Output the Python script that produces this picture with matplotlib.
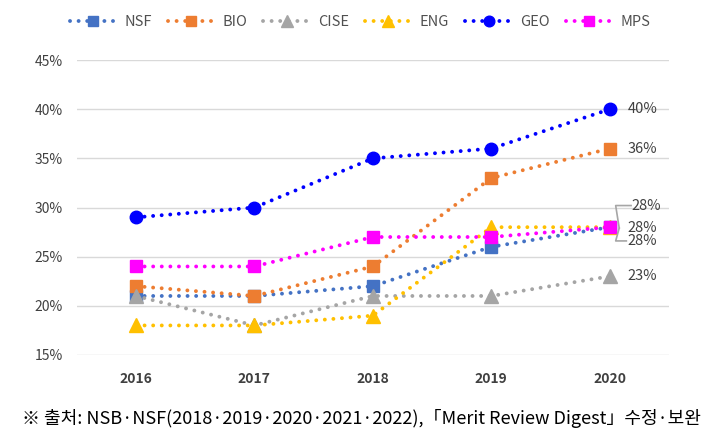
import matplotlib
matplotlib.use("Agg")
import matplotlib.pyplot as plt
from matplotlib.ticker import FuncFormatter

plt.rcParams['font.family'] = ['Noto Sans CJK KR', 'DejaVu Sans']

years = ['2016', '2017', '2018', '2019', '2020']
series_names = ['NSF', 'BIO', 'CISE', 'ENG', 'GEO', 'MPS']
nsf = [21, 21, 22, 26, 28]
bio = [22, 21, 24, 33, 36]
cise = [21, 18, 21, 21, 23]
eng = [18, 18, 19, 28, 28]
geo = [29, 30, 35, 36, 40]
mps = [24, 24, 27, 27, 28]
yticks = [15, 20, 25, 30, 35, 40, 45]

colors = ['#4472C4', '#ED7D31', '#A5A5A5', '#FFC000', '#0000FF', '#FF00FF']
markers = ['s', 's', '^', '^', 'o', 's']
msizes = [8.5, 8.5, 9.5, 9.5, 9, 8.5]
data = [nsf, bio, cise, eng, geo, mps]

fig = plt.figure(figsize=(7.24, 4.42), dpi=100)
ax = fig.add_axes([0.106, 0.197, 0.818, 0.667])

x = list(range(len(years)))
handles = []
for name, vals, c, m, ms in zip(series_names, data, colors, markers, msizes):
    h, = ax.plot(x, vals, color=c, linestyle=(0, (0.01, 2.2)), linewidth=2.8,
                 dash_capstyle='round', marker=m, markersize=ms,
                 markerfacecolor=c, markeredgecolor=c, label=name)
    handles.append(h)

ax.set_xlim(-0.5, 4.5)
ax.set_ylim(15, 45)
ax.set_yticks(yticks)
ax.yaxis.set_major_formatter(FuncFormatter(lambda v, p: f'{v:.0f}%'))
ax.set_xticks(x)
ax.set_xticklabels(years, fontweight='bold')
ax.grid(axis='y', color='#D9D9D9', linewidth=1)
ax.set_axisbelow(True)
for s in ax.spines.values():
    s.set_visible(False)
ax.tick_params(axis='both', length=0, labelsize=10, colors='#404040')
ax.tick_params(axis='x', pad=12)
ax.tick_params(axis='y', pad=10)

# end labels
lx = 4.15
fs = 10.5
ax.text(lx, geo[-1], f'{geo[-1]}%', va='center', ha='left', fontsize=fs, color='#404040')
ax.text(lx, bio[-1], f'{bio[-1]}%', va='center', ha='left', fontsize=fs, color='#404040')
ax.text(lx, cise[-1], f'{cise[-1]}%', va='center', ha='left', fontsize=fs, color='#404040')
ax.text(lx, mps[-1] - 0.1, f'{mps[-1]}%', va='center', ha='left', fontsize=fs, color='#404040')
ax.text(lx + 0.03, eng[-1] + 2.2, f'{eng[-1]}%', va='center', ha='left', fontsize=fs, color='#404040')
ax.text(lx, nsf[-1] - 1.4, f'{nsf[-1]}%', va='center', ha='left', fontsize=fs, color='#404040')
ax.plot([4.08, 4.05, 4.18], [eng[-1] - 0.1, eng[-1] + 2.2, eng[-1] + 2.2], color='#A6A6A6', lw=1.2)
ax.plot([4.08, 4.05, 4.14], [nsf[-1] - 0.1, nsf[-1] - 1.4, nsf[-1] - 1.4], color='#A6A6A6', lw=1.2)

leg = fig.legend(handles=handles, loc='center', bbox_to_anchor=(0.497, 0.950), ncol=6,
                 frameon=False, fontsize=10.5, handlelength=3.2, columnspacing=1.1,
                 handletextpad=0.55, markerscale=0.85)
for t in leg.get_texts():
    t.set_color('#505050')

fig.text(0.03, 0.053, '※ 출처: NSB·NSF(2018·2019·2020·2021·2022),「Merit Review Digest」수정·보완',
         fontsize=13, ha='left', va='center', color='#000000')

fig.savefig('out.png', dpi=100)
